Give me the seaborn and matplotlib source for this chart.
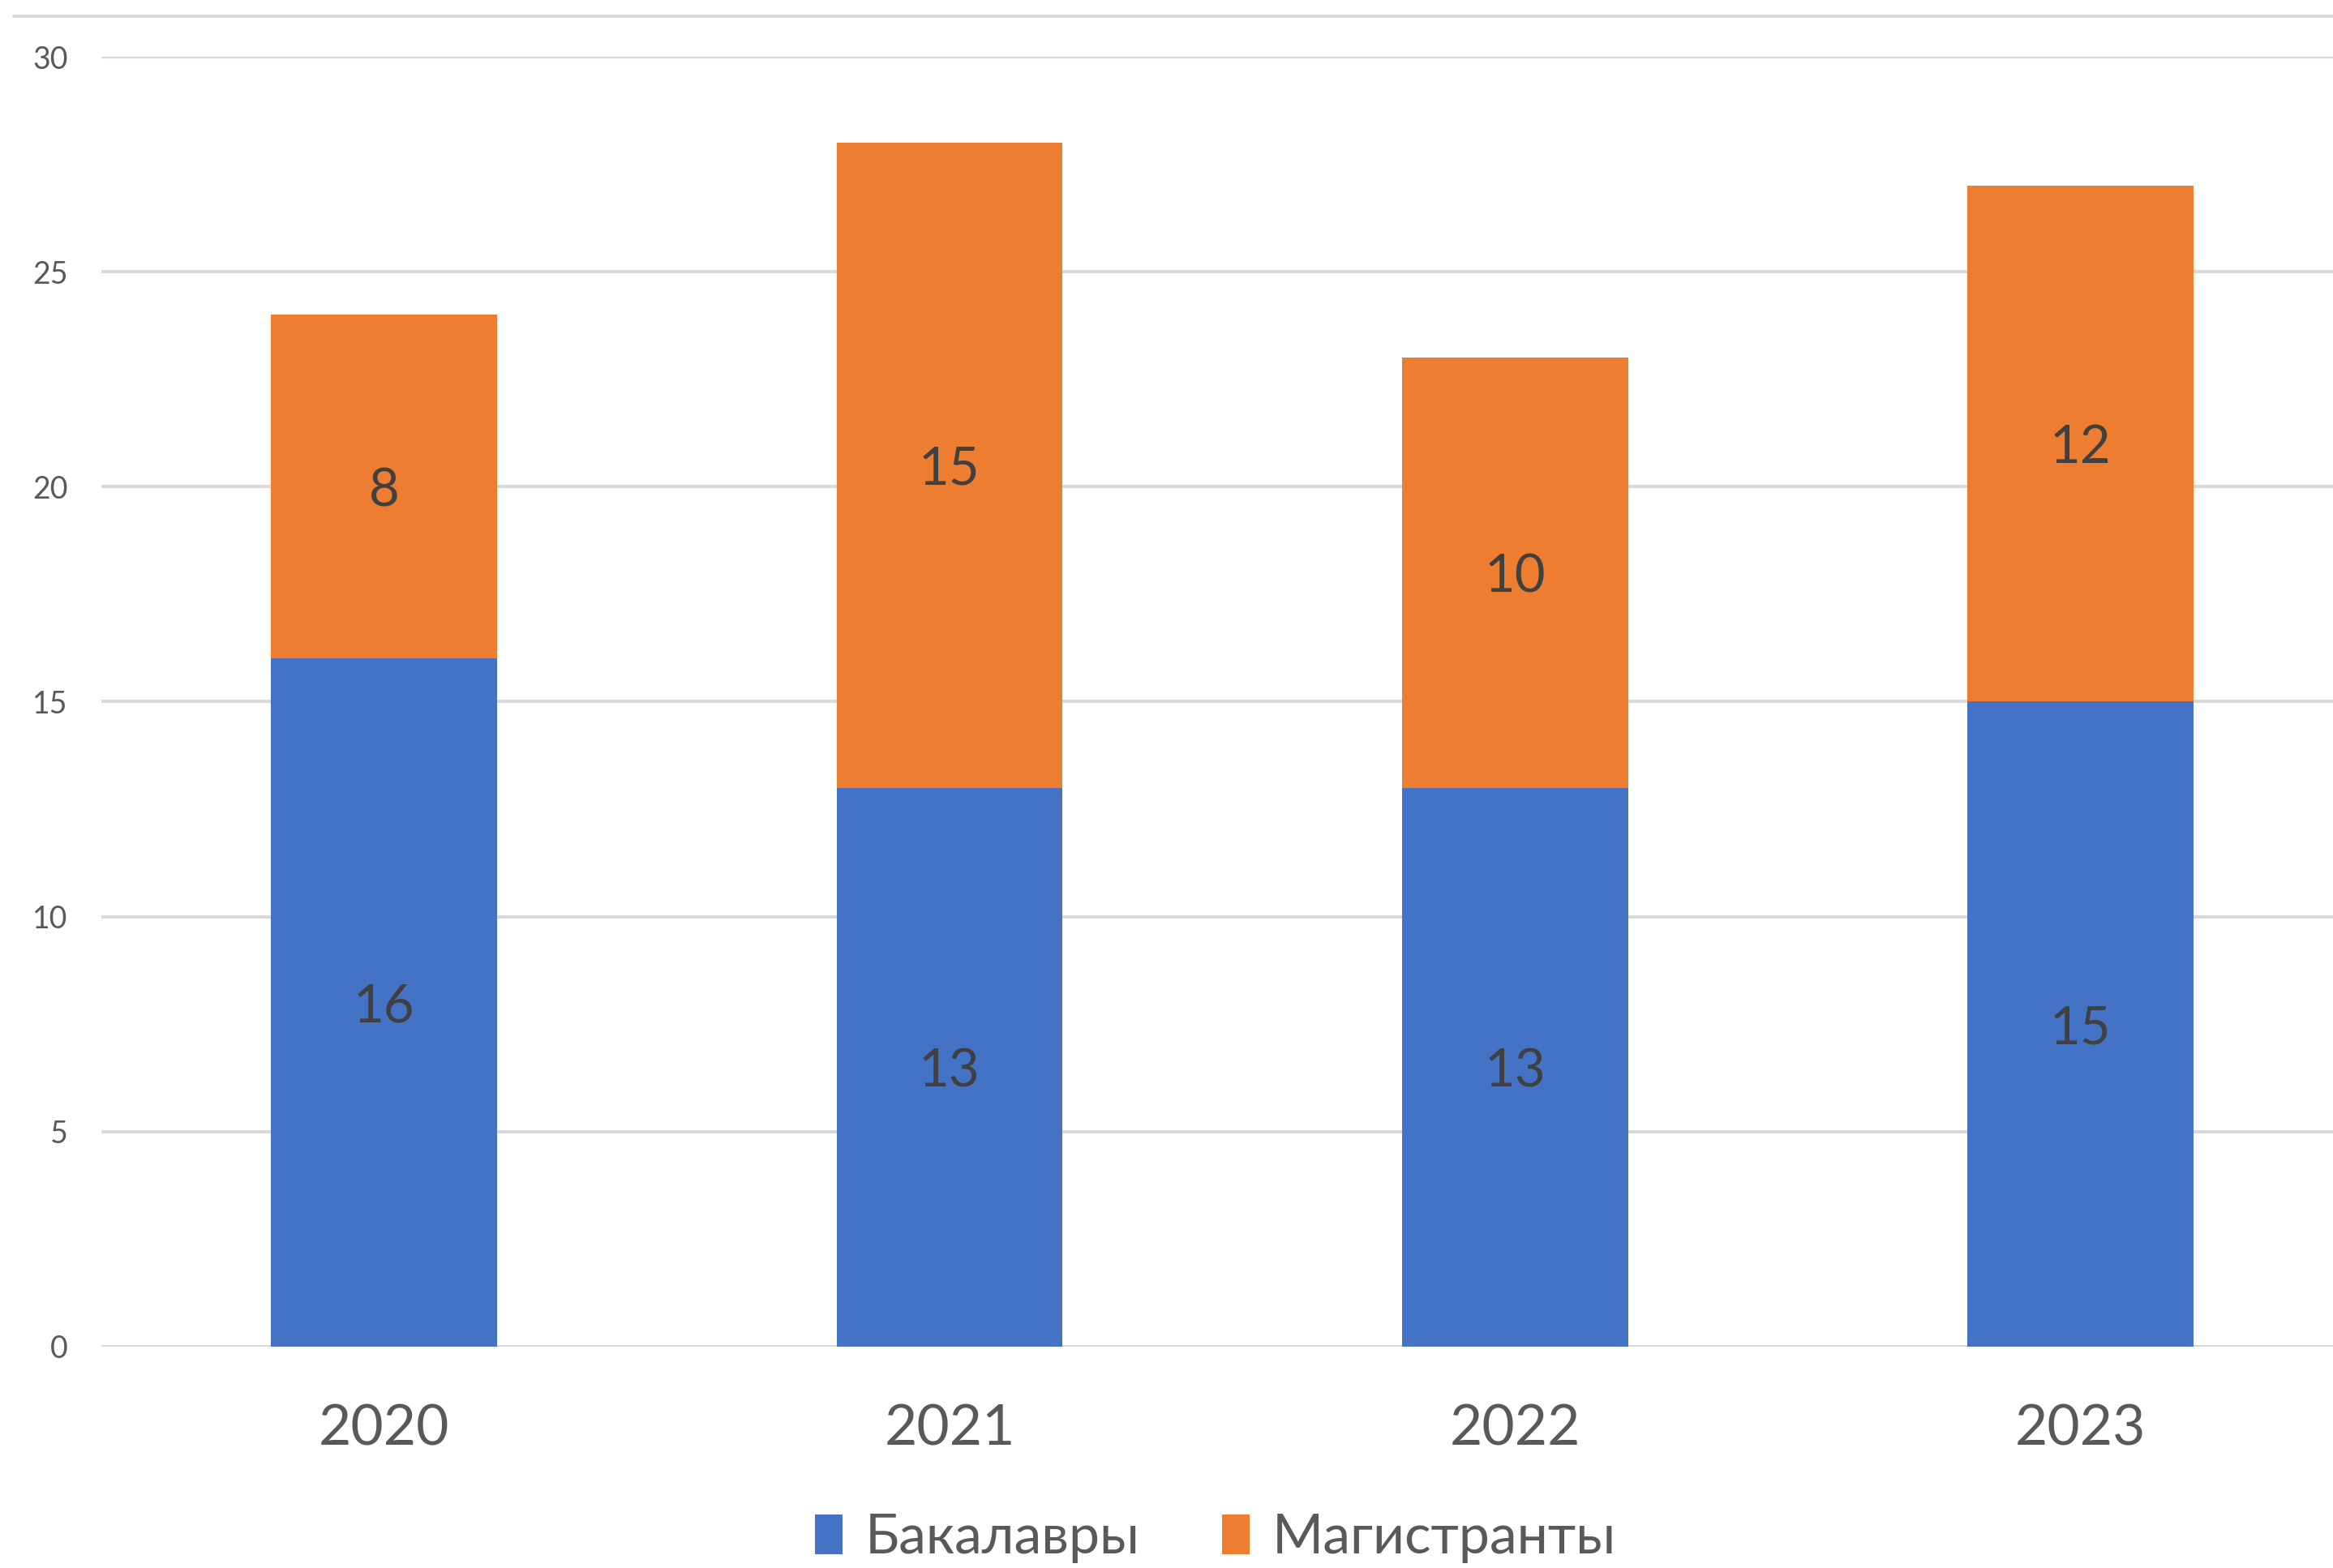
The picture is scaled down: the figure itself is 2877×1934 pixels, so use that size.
import matplotlib
matplotlib.use("Agg")
import matplotlib.pyplot as plt
import seaborn as sns
import pandas as pd
from matplotlib.patches import Patch
from matplotlib.lines import Line2D

years = ["2020", "2021", "2022", "2023"]
bachelors = [16, 13, 13, 15]
masters = [8, 15, 10, 12]
series_names = ["Бакалавры", "Магистранты"]
y_ticks = [0, 5, 10, 15, 20, 25, 30]

BLUE = "#4472C4"
ORANGE = "#ED7D31"
TXT = "#595959"
GRID = "#D9D9D9"

sns.set_theme(style="white")
plt.rcParams["font.family"] = ["Lato", "DejaVu Sans"]

totals = [b + m for b, m in zip(bachelors, masters)]
df = pd.DataFrame({"year": years, "bach": bachelors, "mast": masters, "total": totals})

fig = plt.figure(figsize=(28.77, 19.34), dpi=100)
ax = fig.add_axes([0.0435, 0.1412, 0.9565, 0.8226])

sns.barplot(data=df, x="year", y="total", color=ORANGE, width=0.4,
            saturation=1, linewidth=0, ax=ax, zorder=3)
sns.barplot(data=df, x="year", y="bach", color=BLUE, width=0.4,
            saturation=1, linewidth=0, ax=ax, zorder=3)

for i, (b, m) in enumerate(zip(bachelors, masters)):
    ax.text(i, b / 2, str(b), ha="center", va="center_baseline", fontsize=47, color="#404040", zorder=4)
    ax.text(i, b + m / 2, str(m), ha="center", va="center_baseline", fontsize=47, color="#404040", zorder=4)

ax.set_xlim(-0.5, 3.447)
ax.set_ylim(0, 30)
ax.set_yticks(y_ticks)
ax.set_yticklabels([str(t) for t in y_ticks], fontsize=27, color=TXT)
ax.tick_params(axis="y", length=0, pad=30)
ax.tick_params(axis="x", length=0, pad=51, labelsize=50, labelcolor=TXT)
ax.set_xlabel("")
ax.set_ylabel("")
for s in ax.spines.values():
    s.set_visible(False)
ax.yaxis.grid(True, color=GRID, linewidth=2.9, zorder=0)
ax.set_axisbelow(True)

# top border line of the chart area
fig.add_artist(Line2D([0.006, 1.0], [1 - 20 / 1934, 1 - 20 / 1934], color=GRID,
                      linewidth=2.9, transform=fig.transFigure))

handles = [Patch(facecolor=BLUE, edgecolor="none"), Patch(facecolor=ORANGE, edgecolor="none")]
leg = fig.legend(handles, series_names, loc="center", bbox_to_anchor=(0.521, 0.019), ncol=2,
                 frameon=False, fontsize=49, handlelength=0.5, handleheight=0.75,
                 handletextpad=0.4, columnspacing=1.5)
for t in leg.get_texts():
    t.set_color(TXT)

fig.savefig("out.png", dpi=100)
